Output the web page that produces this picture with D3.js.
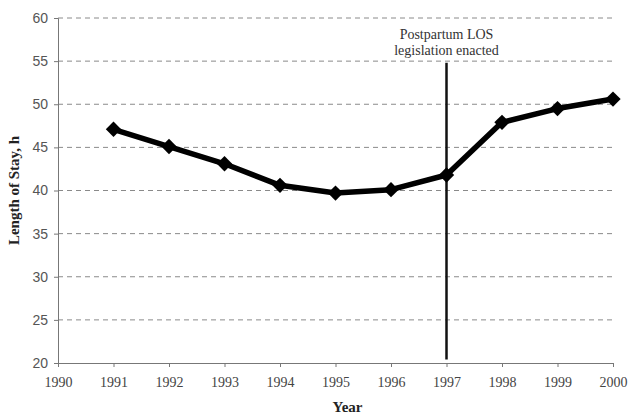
<!DOCTYPE html>
<html>
<head>
<meta charset="utf-8">
<script src="https://cdn.jsdelivr.net/npm/d3@7"></script>
<style>
  body { margin: 0; background: #fff; }
</style>
</head>
<body>
<div id="canvas"></div>
<script>
"use strict"

/* Data */
let years = [1991, 1992, 1993, 1994, 1995, 1996, 1997, 1998, 1999, 2000];
let stayHours = [47.1, 45.1, 43.1, 40.6, 39.7, 40.1, 41.8, 47.9, 49.5, 50.6];
let xTicks = [1990, 1991, 1992, 1993, 1994, 1995, 1996, 1997, 1998, 1999, 2000];
let yTicks = [20, 25, 30, 35, 40, 45, 50, 55, 60];
let legislationYear = 1997;
let legislationSpan = [20.4, 54.8];

/* Drawing config */
let svgWidth = 628;
let svgHeight = 418;
let plotLeft = 58, plotRight = 613, plotTop = 18, plotBottom = 363;

let svg = d3.select("#canvas")
    .append("svg")
    .attr("width", svgWidth)
    .attr("height", svgHeight);

let xScale = d3.scaleLinear().domain([1990, 2000]).range([plotLeft, plotRight]);
let yScale = d3.scaleLinear().domain([20, 60]).range([plotBottom, plotTop]);

/* Dashed grid lines */
svg.selectAll("line.grid")
    .data(yTicks.filter(d => d > 20))
    .join("line")
    .attr("class", "grid")
    .attr("x1", plotLeft)
    .attr("x2", plotRight)
    .attr("y1", d => yScale(d))
    .attr("y2", d => yScale(d))
    .attr("stroke", "#8a8a8a")
    .attr("stroke-width", 1)
    .attr("stroke-dasharray", "5,4");

/* Y axis */
let yAxis = svg.append("g")
    .attr("transform", `translate(${plotLeft},0)`)
    .call(d3.axisLeft(yScale).tickValues(yTicks).tickSize(4).tickPadding(6));
yAxis.select(".domain").attr("stroke", "#777");
yAxis.selectAll(".tick line").attr("stroke", "#777");
yAxis.selectAll("text")
    .attr("font-family", "Liberation Sans, Arial, sans-serif")
    .attr("font-size", 14)
    .attr("fill", "#555");

/* X axis */
let xAxis = svg.append("g")
    .attr("transform", `translate(0,${plotBottom})`)
    .call(d3.axisBottom(xScale).tickValues(xTicks).tickFormat(d3.format("d")).tickSize(4).tickPadding(10));
xAxis.select(".domain").attr("stroke", "#777");
xAxis.selectAll(".tick line").attr("stroke", "#777");
xAxis.selectAll("text")
    .attr("font-family", "Liberation Serif, Times New Roman, serif")
    .attr("font-size", 14)
    .attr("fill", "#444");

/* Legislation marker */
svg.append("line")
    .attr("x1", xScale(legislationYear))
    .attr("x2", xScale(legislationYear))
    .attr("y1", yScale(legislationSpan[0]))
    .attr("y2", yScale(legislationSpan[1]))
    .attr("stroke", "#111")
    .attr("stroke-width", 2.5);

let note = svg.append("text")
    .attr("x", xScale(legislationYear))
    .attr("y", 39)
    .attr("text-anchor", "middle")
    .attr("font-family", "Liberation Serif, Times New Roman, serif")
    .attr("font-size", 14)
    .attr("fill", "#333");
note.append("tspan").attr("x", xScale(legislationYear)).text("Postpartum LOS");
note.append("tspan").attr("x", xScale(legislationYear)).attr("dy", 16).text("legislation  enacted");

/* Data line */
let points = years.map((y, i) => [y, stayHours[i]]);
svg.append("path")
    .datum(points)
    .attr("fill", "none")
    .attr("stroke", "#000")
    .attr("stroke-width", 5.5)
    .attr("stroke-linejoin", "round")
    .attr("d", d3.line().x(d => xScale(d[0])).y(d => yScale(d[1])));

/* Diamond markers */
svg.selectAll("path.marker")
    .data(points)
    .join("path")
    .attr("class", "marker")
    .attr("transform", d => `translate(${xScale(d[0])},${yScale(d[1])})`)
    .attr("d", d3.symbol().type(d3.symbolDiamond2).size(150))
    .attr("fill", "#000");

/* Axis titles */
svg.append("text")
    .attr("x", (plotLeft + plotRight) / 2 + 12)
    .attr("y", 412)
    .attr("text-anchor", "middle")
    .attr("font-family", "Liberation Serif, Times New Roman, serif")
    .attr("font-weight", "bold")
    .attr("font-size", 15)
    .attr("fill", "#222")
    .text("Year");

svg.append("text")
    .attr("transform", `translate(19,${(plotTop + plotBottom) / 2}) rotate(-90)`)
    .attr("text-anchor", "middle")
    .attr("font-family", "Liberation Serif, Times New Roman, serif")
    .attr("font-weight", "bold")
    .attr("font-size", 15)
    .attr("fill", "#222")
    .text("Length of Stay,  h");
</script>
</body>
</html>
